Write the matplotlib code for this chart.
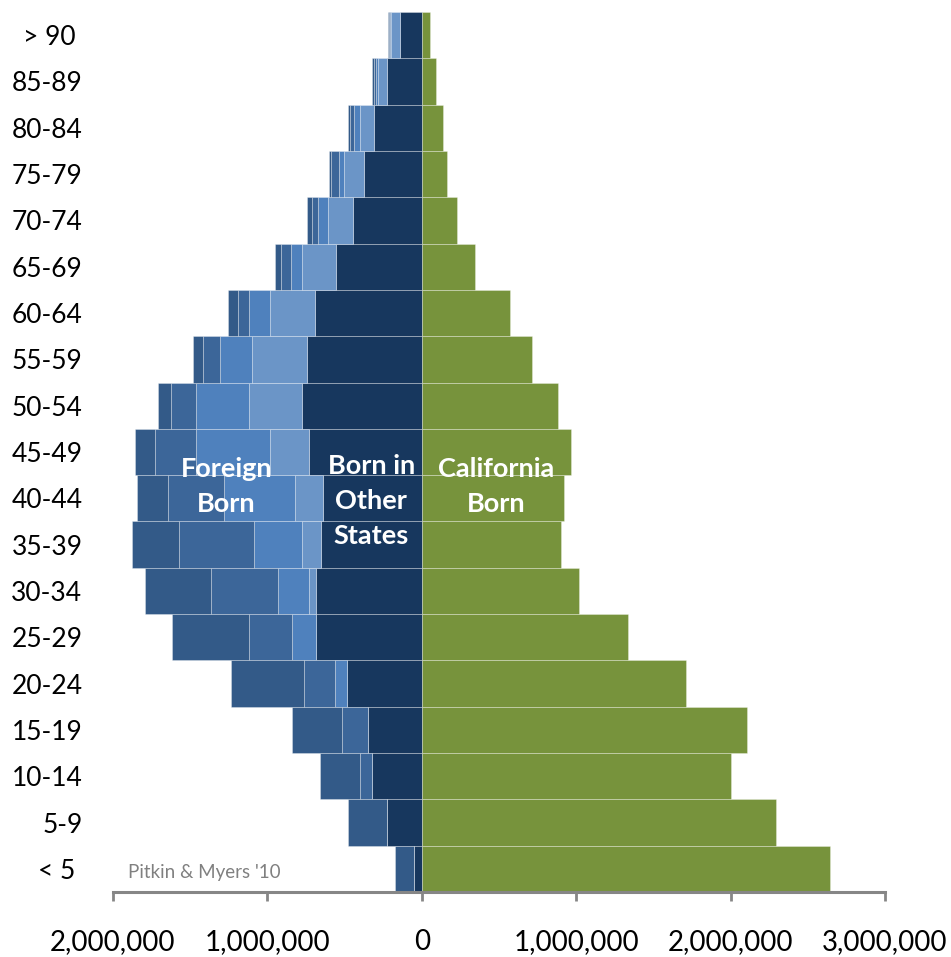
import matplotlib
matplotlib.use('Agg')
import numpy as np
from matplotlib import pyplot
from matplotlib import font_manager
from matplotlib.ticker import FuncFormatter


# age groups, bottom to top
ages = ['< 5 ', '5-9', '10-14', '15-19', '20-24', '25-29', '30-34', '35-39',
        '40-44', '45-49', '50-54', '55-59', '60-64', '65-69', '70-74',
        '75-79', '80-84', '85-89', '> 90 ']

# persons, California 2010
other_states = [53000, 225400, 322500, 351000, 484500, 683300, 683300, 652800,
                639900, 733200, 774000, 743500, 689800, 558300, 445600,
                372400, 312200, 225400, 143800]
foreign_pre1980 = [0, 0, 0, 0, 0, 0, 45300, 123100,
                   179400, 252600, 347800, 354300, 296000, 220200, 164500,
                   129500, 90700, 58300, 55700]
foreign_1980s = [0, 0, 0, 0, 75800, 157400, 205300, 313500,
                 464400, 476700, 340700, 211800, 136000, 71200, 64800,
                 36900, 34300, 15500, 8400]
foreign_1990s = [0, 0, 80300, 168400, 205300, 281100, 433900, 485800,
                 362700, 263600, 160000, 107500, 71200, 64800, 36300,
                 47300, 30400, 13000, 4500]
foreign_2000s = [120500, 250600, 259100, 319300, 468300, 496100, 424900, 299900,
                 198200, 129500, 88700, 64800, 60200, 38900, 32400,
                 14900, 8400, 8400, 4500]
california_born = [2643800, 2291500, 2000000, 2106200, 1711100, 1337400,
                   1015500, 903500, 922900, 963700, 879500, 715700, 568700,
                   342000, 228000, 165200, 134700, 92000, 50500]


def pick_font(candidates):
    names = {f.name for f in font_manager.fontManager.ttflist}
    for name in candidates:
        if name in names:
            return name
    return 'DejaVu Sans'


def main():
    body_font = pick_font(['Lato', 'Open Sans', 'DejaVu Sans'])

    fig = pyplot.figure(figsize=(9.51, 9.57), dpi=100)
    ax = fig.add_axes([0.1188, 0.0679, 0.8118, 0.9196])

    y = np.arange(len(ages))
    edge = dict(edgecolor=(1, 1, 1, 0.35), linewidth=0.6, height=1.0)

    layers = [
        (other_states, '#17375e'),
        (foreign_pre1980, '#6b95c7'),
        (foreign_1980s, '#4f81bd'),
        (foreign_1990s, '#3c6699'),
        (foreign_2000s, '#335a88'),
    ]
    base = np.zeros(len(ages))
    for values, color in layers:
        values = np.array(values, dtype=float)
        ax.barh(y, -values, left=-base, color=color, **edge)
        base += values

    ax.barh(y, california_born, left=0, color='#77933c', **edge)

    ax.set_xlim(-2000000, 3000000)
    ax.set_ylim(-0.5, len(ages) - 0.5)
    ax.set_xticks([-2000000, -1000000, 0, 1000000, 2000000, 3000000])
    ax.xaxis.set_major_formatter(
        FuncFormatter(lambda v, pos: '{:,.0f}'.format(abs(v))))
    ax.set_yticks(y)
    ax.set_yticklabels(ages)

    for side in ('left', 'top', 'right'):
        ax.spines[side].set_visible(False)
    ax.spines['bottom'].set_color('#868686')
    ax.spines['bottom'].set_linewidth(2.2)

    ax.tick_params(axis='x', direction='out', length=6.5, width=2,
                   color='#868686', pad=20, labelsize=20)
    ax.tick_params(axis='y', length=0, pad=22, labelsize=19)
    for lab in ax.get_xticklabels() + ax.get_yticklabels():
        lab.set_fontfamily(body_font)

    label_style = dict(color='white', fontsize=19.5, fontweight='bold',
                       family=body_font, ha='center', va='center',
                       linespacing=1.55)
    ax.text(-1266000, 8.26, 'Foreign\nBorn', **label_style)
    ax.text(-327000, 7.94, 'Born in\nOther\nStates', **label_style)
    ax.text(479000, 8.26, 'California\nBorn', **label_style)

    ax.text(-1903000, -0.2, "Pitkin & Myers '10", color='#808080',
            fontsize=13.5, family=body_font, ha='left', va='baseline')

    fig.savefig('out.png', dpi=100)


if __name__ == '__main__':
    main()
